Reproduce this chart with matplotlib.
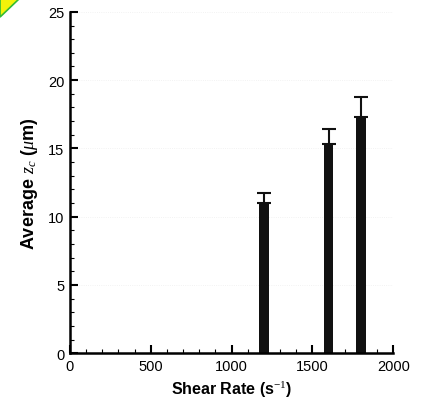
import matplotlib
matplotlib.use("Agg")
import matplotlib.pyplot as plt
from matplotlib.ticker import MultipleLocator
from matplotlib.patches import Polygon

shear_rate = [1200, 1600, 1800]
avg_zc = [11.0, 15.3, 17.3]
err_up = [0.7, 1.1, 1.5]
xticks = [0, 500, 1000, 1500, 2000]
yticks = [0, 5, 10, 15, 20, 25]

plt.rcParams['font.family'] = ['Liberation Sans', 'DejaVu Sans']
plt.rcParams['mathtext.fontset'] = 'custom'
plt.rcParams['mathtext.it'] = 'Liberation Serif:italic'
plt.rcParams['mathtext.rm'] = 'Liberation Serif'

fig = plt.figure(figsize=(4.21, 4.02), dpi=100)
ax = fig.add_axes([0.166, 0.119, 0.768, 0.849])

for y in yticks[1:]:
    ax.axhline(y, color='#eeeeee', lw=0.6, ls=':', zorder=0)

ax.bar(shear_rate, avg_zc, width=60, color='#111111', zorder=2)
ax.errorbar(shear_rate, avg_zc, yerr=[[0]*3, err_up], fmt='none',
            ecolor='#111111', elinewidth=1.5, capsize=5, capthick=1.5, zorder=3)

ax.set_xlim(0, 2000)
ax.set_ylim(0, 25)
ax.set_xticks(xticks)
ax.set_yticks(yticks)
ax.xaxis.set_minor_locator(MultipleLocator(100))
ax.yaxis.set_minor_locator(MultipleLocator(1))
ax.tick_params(which='major', direction='in', length=6, width=1.5, labelsize=10.5, pad=4)
ax.tick_params(which='minor', direction='in', length=3, width=0.8)
for s in ['top', 'right']:
    ax.spines[s].set_visible(False)
for s in ['left', 'bottom']:
    ax.spines[s].set_linewidth(1.8)

ax.set_xlabel(r"Shear Rate (s$^{-1}$)", fontsize=11.5, fontweight='bold', labelpad=4)
ax.set_ylabel(r"Average $z_{c}$ ($\mu$m)", fontsize=13, fontweight='bold', labelpad=6)

tri = Polygon([[0, 1], [0.045, 1], [0, 0.955]], closed=True, transform=fig.transFigure,
              facecolor='#f2f20a', edgecolor='#33bb33', lw=1.2)
fig.patches.append(tri)

fig.savefig("out.png", dpi=100)
